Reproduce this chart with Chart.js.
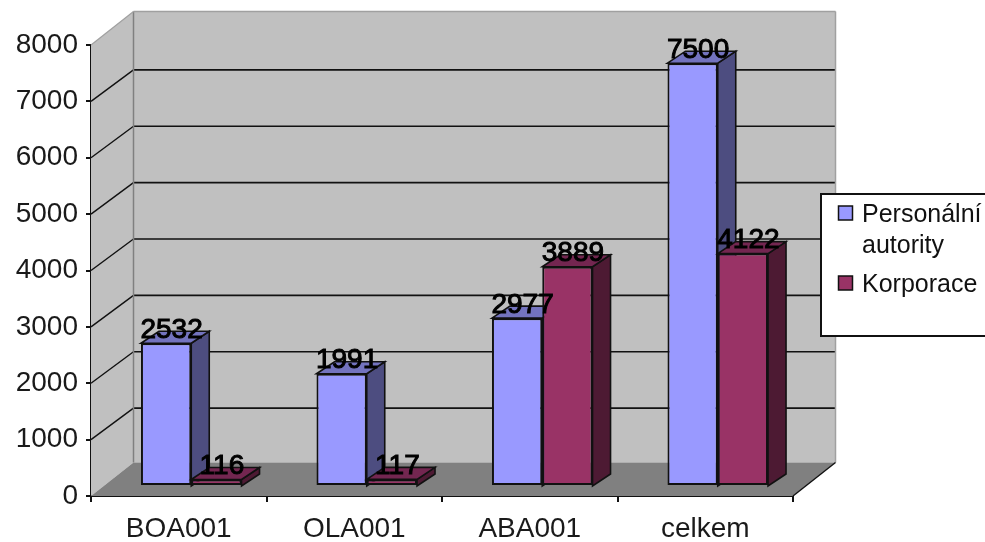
<!DOCTYPE html>
<html>
<head>
<meta charset="utf-8">
<style>html,body{margin:0;padding:0;background:#fff;overflow:hidden}canvas{display:block;filter:blur(0.45px)}</style>
<script src="https://cdn.jsdelivr.net/npm/chart.js@4"></script>
</head>
<body>
<canvas id="c" width="985" height="542"></canvas>
<script>
const categories = ["BOA001", "OLA001", "ABA001", "celkem"];
const personalniAutority = [2532, 1991, 2977, 7500];
const korporace = [116, 117, 3889, 4122];
const seriesNames = ["Personální autority", "Korporace"];
const legendLines = [["Personální", "autority"], ["Korporace"]];

const FONT = '"Liberation Sans", Arial, sans-serif';
const WALL = {dx: 42.5, dy: -33.5, gridDy: -31.5};
const BAR_SHIFT = {dx: 12.5, dy: -10};
const BAR_DEPTH = {dx: 18, dy: -12};
const faces = [
  {front: "#9999FF", side: "#4D4D80", top: "#7373BF"},
  {front: "#993366", side: "#4D1A33", top: "#732650"}
];

function poly(ctx, pts, fill, stroke, lw) {
  ctx.beginPath();
  pts.forEach((p, i) => i ? ctx.lineTo(p[0], p[1]) : ctx.moveTo(p[0], p[1]));
  ctx.closePath();
  if (fill) { ctx.fillStyle = fill; ctx.fill(); }
  if (stroke) { ctx.strokeStyle = stroke; ctx.lineWidth = lw || 1; ctx.stroke(); }
}
function line(ctx, x1, y1, x2, y2, color, lw) {
  ctx.beginPath(); ctx.moveTo(x1, y1); ctx.lineTo(x2, y2);
  ctx.strokeStyle = color; ctx.lineWidth = lw; ctx.stroke();
}
function drawFaces(chart, index) {
  const {ctx, scales: {y}} = chart;
  const f = faces[index];
  chart.getDatasetMeta(index).data.forEach(b => {
    const L = b.x - b.width / 2, R = b.x + b.width / 2, T = b.y, B = y.getPixelForValue(0);
    const dx = BAR_DEPTH.dx, dy = BAR_DEPTH.dy;
    poly(ctx, [[R, T], [R + dx, T + dy], [R + dx, B + dy], [R, B]], f.side, "#111", 1.6);
    poly(ctx, [[L, T], [L + dx, T + dy], [R + dx, T + dy], [R, T]], f.top, "#111", 1.6);
  });
}

const walls3d = {
  id: "walls3d",
  beforeDatasetsDraw(chart) {
    const {ctx, chartArea: a, scales: {y}} = chart;
    const bx = WALL.dx, by = WALL.dy;
    ctx.save();
    poly(ctx, [[a.left, a.top], [a.left + bx, a.top + by], [a.right + bx, a.top + by], [a.right + bx, a.bottom + by], [a.left + bx, a.bottom + by], [a.left, a.bottom]], "#C0C0C0");
    poly(ctx, [[a.left, a.bottom], [a.right, a.bottom], [a.right + bx, a.bottom + by], [a.left + bx, a.bottom + by]], "#808080");
    y.ticks.forEach(t => {
      if (t.value === 0 || t.value === y.max) return;
      const py = y.getPixelForValue(t.value);
      line(ctx, a.left, py, a.left + bx, py + WALL.gridDy, "#111", 1.4);
      line(ctx, a.left + bx, py + WALL.gridDy, a.right + bx, py + WALL.gridDy, "#111", 1.6);
    });
    line(ctx, a.left + bx, a.top + by, a.left + bx, a.bottom + by, "#808080", 1.5);
    line(ctx, a.left + bx, a.top + by, a.right + bx, a.top + by, "#A0A0A0", 1.5);
    line(ctx, a.right + bx, a.top + by, a.right + bx, a.bottom + by, "#A0A0A0", 1.5);
    line(ctx, a.left, a.top, a.left + bx, a.top + by, "#A0A0A0", 1.2);
    line(ctx, a.right, a.bottom, a.right + bx, a.bottom + by, "#111", 1.4);
    ctx.restore();
  },
  // Chart.js paints the last dataset first; the second series must sit over
  // the first one's side faces, so it is painted right after the first.
  beforeDatasetDraw(chart, args) {
    if (args.index === 1) return false;
    chart.ctx.save();
    chart.ctx.translate(BAR_SHIFT.dx, BAR_SHIFT.dy);
    drawFaces(chart, 0);
  },
  afterDatasetDraw(chart) {
    drawFaces(chart, 1);
    chart.getDatasetMeta(1).controller.draw();
    chart.ctx.restore();
  },
  afterDraw(chart) {
    const {ctx} = chart;
    ctx.save();
    // value labels
    ctx.font = "28px " + FONT;
    ctx.textAlign = "center";
    ctx.textBaseline = "middle";
    ctx.fillStyle = "#000";
    ctx.strokeStyle = "#000";
    ctx.lineWidth = 1;
    chart.data.datasets.forEach((ds, i) => {
      chart.getDatasetMeta(i).data.forEach((b, k) => {
        const x = b.x + BAR_SHIFT.dx + 5.5, yy = b.y + BAR_SHIFT.dy - 13;
        ctx.fillText(String(ds.data[k]), x, yy);
        ctx.strokeText(String(ds.data[k]), x, yy);
      });
    });
    // legend
    ctx.fillStyle = "#fff";
    ctx.strokeStyle = "#111";
    ctx.lineWidth = 2;
    ctx.fillRect(821, 194, 170, 142);
    ctx.strokeRect(821, 194, 170, 142);
    ctx.textAlign = "left";
    ctx.textBaseline = "alphabetic";
    ctx.font = "25px " + FONT;
    ctx.lineWidth = 1.5;
    const swatchY = [206, 276], baseY = [[222, 253], [292]];
    legendLines.forEach((lines, i) => {
      ctx.fillStyle = faces[i].front;
      ctx.fillRect(838.5, swatchY[i], 14, 14);
      ctx.strokeRect(838.5, swatchY[i], 14, 14);
      ctx.fillStyle = "#111";
      lines.forEach((t, j) => ctx.fillText(t, 862, baseY[i][j]));
    });
    ctx.restore();
  }
};

new Chart(document.getElementById("c"), {
  type: "bar",
  data: {
    labels: categories,
    datasets: [
      {label: seriesNames[0], data: personalniAutority, backgroundColor: faces[0].front, borderColor: "#111", borderWidth: 2, borderSkipped: false, clip: false},
      {label: seriesNames[1], data: korporace, backgroundColor: faces[1].front, borderColor: "#111", borderWidth: 2, borderSkipped: false, clip: false}
    ]
  },
  options: {
    responsive: false,
    animation: false,
    devicePixelRatio: 1,
    layout: {padding: {top: 45, right: 192, left: 0, bottom: 0}},
    plugins: {legend: {display: false}, title: {display: false}, tooltip: {enabled: false}},
    datasets: {bar: {barPercentage: 1, categoryPercentage: 0.573}},
    scales: {
      x: {
        afterFit(s) { s.height = 46; },
        grid: {display: true, drawOnChartArea: false, drawTicks: true, tickLength: 6, color: "#111", lineWidth: 2},
        border: {display: true, color: "#111", width: 2},
        ticks: {font: {family: FONT, size: 28}, color: "#1a1a1a", padding: 10, maxRotation: 0, autoSkip: false}
      },
      y: {
        min: 0, max: 8000,
        afterFit(s) { s.width = 91; },
        grid: {display: true, drawOnChartArea: false, drawTicks: true, tickLength: 5, color: "#111", lineWidth: 2},
        border: {display: true, color: "#111", width: 2},
        ticks: {stepSize: 1000, font: {family: FONT, size: 28}, color: "#1a1a1a", padding: 8, callback: v => String(v)}
      }
    }
  },
  plugins: [walls3d]
});
</script>
</body>
</html>
